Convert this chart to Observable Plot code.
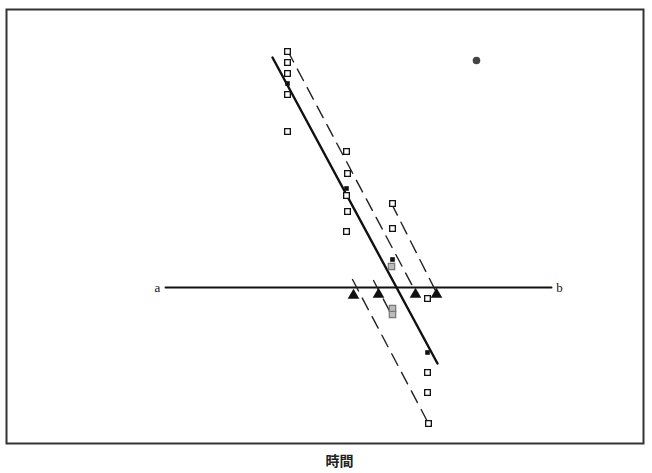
<!DOCTYPE html>
<html><head><meta charset="utf-8">
<script src="https://cdn.jsdelivr.net/npm/d3@7"></script>
<script src="https://cdn.jsdelivr.net/npm/@observablehq/plot@0.6"></script>
<style>body{margin:0;background:#fff}</style>
</head><body><div id="chart"></div>
<script>
// Coordinates (time along x, level along y, y growing downward)
const openSquares = [
  [287,51],[287,62],[287,73],[287,94],[287,131],
  [346,151],[347,173],[346,195],[347,211],[346,231],
  [392,203],[392,228],
  [427,298],
  [427,372],[427,392],[428,423]
];
const filledSquares = [[287,83],[346,188],[392,259],[427,352]];
const graySquares = [[391,266],[392,308],[392,314]];
const triangles = [[353,295],[378,294],[415,294],[436,294]];
const blob = [[476,60]];
const solidLine = [[272,57],[437,363]];
const dashedLines = [
  {id:"d1", pts:[[287,50],[416,293]]},
  {id:"d2", pts:[[391,203],[437,294]]},
  {id:"d3", pts:[[352,279],[428,423]]},
  {id:"d4", pts:[[373,280],[392,316]]}
];
const baseLine = [[165,287],[551,287]];
const endLabels = [{x:157,y:287,t:"a"},{x:559,y:287,t:"b"}];
const xTitle = "時間";

const dashData = dashedLines.flatMap(d => d.pts.map(p => ({id:d.id, x:p[0], y:p[1]})));

const chart = Plot.plot({
  width: 652, height: 473,
  marginLeft: 6, marginTop: 9, marginRight: 9, marginBottom: 30,
  x: {domain: [6,643], axis: null},
  y: {domain: [9,443], reverse: true, axis: null},
  style: {background: "#fff"},
  marks: [
    Plot.frame({stroke: "#333", strokeWidth: 2}),
    Plot.line(baseLine, {x: d => d[0], y: d => d[1], stroke: "#111", strokeWidth: 2}),
    Plot.line(solidLine, {x: d => d[0], y: d => d[1], stroke: "#111", strokeWidth: 2.4}),
    Plot.line(dashData, {x: "x", y: "y", z: "id", stroke: "#222", strokeWidth: 1.4, strokeDasharray: "13,8"}),
    Plot.dot(openSquares, {x: d => d[0], y: d => d[1], symbol: "square", r: 3.2, fill: "#fff", stroke: "#111", strokeWidth: 1.3}),
    Plot.dot(graySquares, {x: d => d[0], y: d => d[1], symbol: "square", r: 3.6, fill: "#bbb", stroke: "#777", strokeWidth: 1.2}),
    Plot.dot(filledSquares, {x: d => d[0], y: d => d[1], symbol: "square", r: 2.6, fill: "#111", stroke: "none"}),
    Plot.dot(triangles, {x: d => d[0], y: d => d[1], symbol: "triangle", r: 4.3, fill: "#111", stroke: "none"}),
    Plot.dot(blob, {x: d => d[0], y: d => d[1], r: 3.8, fill: "#444", stroke: "none"}),
    Plot.text(endLabels, {x: "x", y: "y", text: "t", fontFamily: "Liberation Serif", fontSize: 13, fill: "#111"}),
    Plot.text([xTitle], {x: 339, y: 461, text: d => d, fontFamily: "Noto Sans CJK TC", fontWeight: "bold", fontSize: 14, fill: "#222"})
  ]
});
document.getElementById("chart").append(chart);
</script>
</body></html>
